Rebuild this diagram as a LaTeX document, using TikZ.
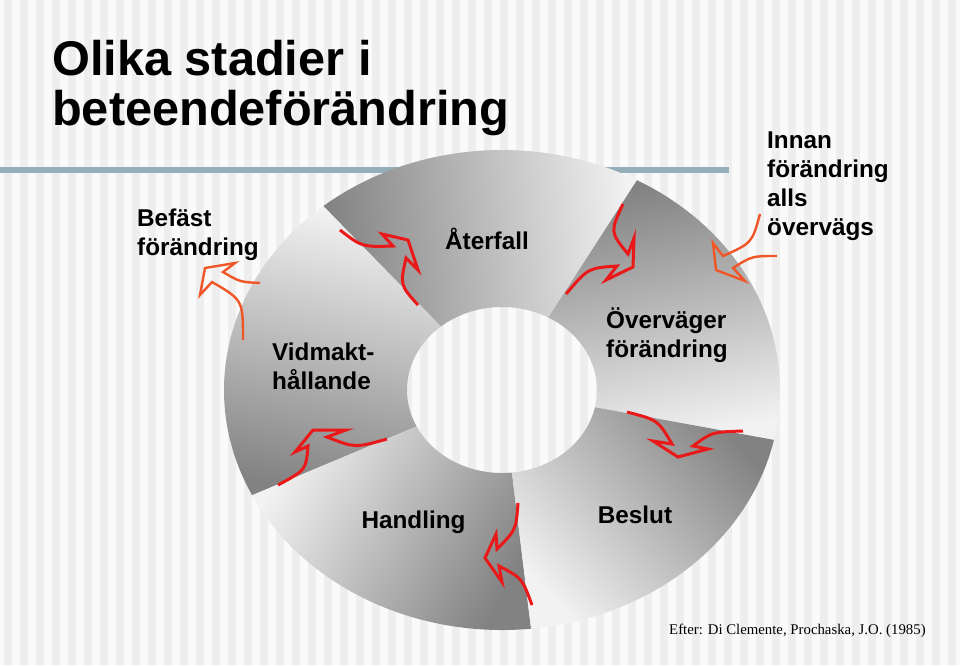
\documentclass[tikz,border=0pt]{standalone}
\usepackage{fontspec}
\setmainfont{Liberation Sans}
\newfontfamily\citefont{Liberation Serif}
\usepackage{xcolor}
\usepackage{tikz}

\definecolor{paper}{RGB}{250,250,250}
\definecolor{stripe}{RGB}{238,238,238}
\definecolor{rulecol}{RGB}{148,174,186}
\definecolor{segdark}{RGB}{130,130,130}
\definecolor{seglight}{RGB}{242,242,242}
\definecolor{flowred}{RGB}{234,24,24}
\definecolor{floworange}{RGB}{240,86,40}

\begin{document}
\begin{tikzpicture}[x=1pt, y=-1pt,
  stage/.style={font=\bfseries\fontsize{24.3}{29}\selectfont, inner sep=0pt, align=left},
  ringpart/.style={top color=seglight, bottom color=segdark, shading angle=#1},
  flow/.style={draw=flowred, line width=3pt},
  outflow/.style={draw=floworange, line width=2.4pt}]
\useasboundingbox (0,0) rectangle (960,665);
\fill[paper] (0,0) rectangle (960,665);
\foreach \i in {0,...,59}
  \fill[stripe] (16*\i+4,0) rectangle ++(8,665);
\fill[rulecol] (0,167) rectangle (729,173);

% ring of five stages
\begin{scope}[shift={(502,390)}]
\foreach \a/\b/\s in {12/-61/-168, -61/-130/-84.5, -130/-206/-12, -206/-276/61, -276/-348/132}
  \shade[ringpart=\s] (\a:278 and 240) arc[start angle=\a, end angle=\b, x radius=278, y radius=240]
    -- (\b:95 and 83) arc[start angle=\b, end angle=\a, x radius=95, y radius=83] -- cycle;
\end{scope}

% arrows between stages
\draw[flow] (340,230) .. controls (362,247) .. (393,246) -- (382,234) -- (408,240) -- (418,270) -- (406,258) .. controls (400,285) .. (418,305);
\draw[flow] (623,204) .. controls (610,232) .. (628,254) -- (634,238) -- (633,267) -- (606,280) -- (617,266) .. controls (588,268) .. (566,294);
\draw[flow] (627,412) .. controls (658,420) .. (672,444) -- (653,441) -- (678,457) -- (708,449) -- (693,446) .. controls (712,432) .. (743,431);
\draw[flow] (518,503) .. controls (516,530) .. (497,549) -- (496,534) -- (485,558) -- (502,582) -- (499,566) .. controls (522,578) .. (532,605);
\draw[flow] (387,439) .. controls (355,448) .. (327,437) -- (346,430) -- (313,430) -- (295,452) -- (308,446) .. controls (306,470) .. (278,485);
\draw[outflow] (260,283) .. controls (240,282) .. (223,272) -- (235,263) -- (205,268) -- (200,295) -- (212,282) .. controls (243,300) .. (243,340);
\draw[outflow] (760,214) .. controls (752,243) .. (723,256) -- (713,243) -- (716,270) -- (745,281) -- (733,268) .. controls (752,256) .. (777,256);

\node[anchor=base west, inner sep=0pt, align=left, font=\bfseries\fontsize{48.7}{50}\selectfont] (title) at (52,125) {Olika stadier i\\beteendeförändring};
\node[stage, anchor=base west] (befast) at (137,255) {Befäst\\förändring};
\node[stage, anchor=base west] (innan) at (767,235) {Innan\\förändring\\alls\\övervägs};
\node[stage, anchor=base] (aterfall) at (487,249) {Återfall};
\node[stage, anchor=base west] (overvager) at (606,357) {Överväger\\förändring};
\node[stage, anchor=base west] (vidmakt) at (272,389) {Vidmakt-\\hållande};
\node[stage, anchor=base] (handling) at (413.5,528) {Handling};
\node[stage, anchor=base] (beslut) at (635,523) {Beslut};
\node[anchor=base west, inner sep=0pt, font=\citefont\fontsize{14.8}{17}\selectfont] (source) at (669,634) {Efter: Di Clemente, Prochaska, J.O. (1985)};
\end{tikzpicture}
\end{document}
